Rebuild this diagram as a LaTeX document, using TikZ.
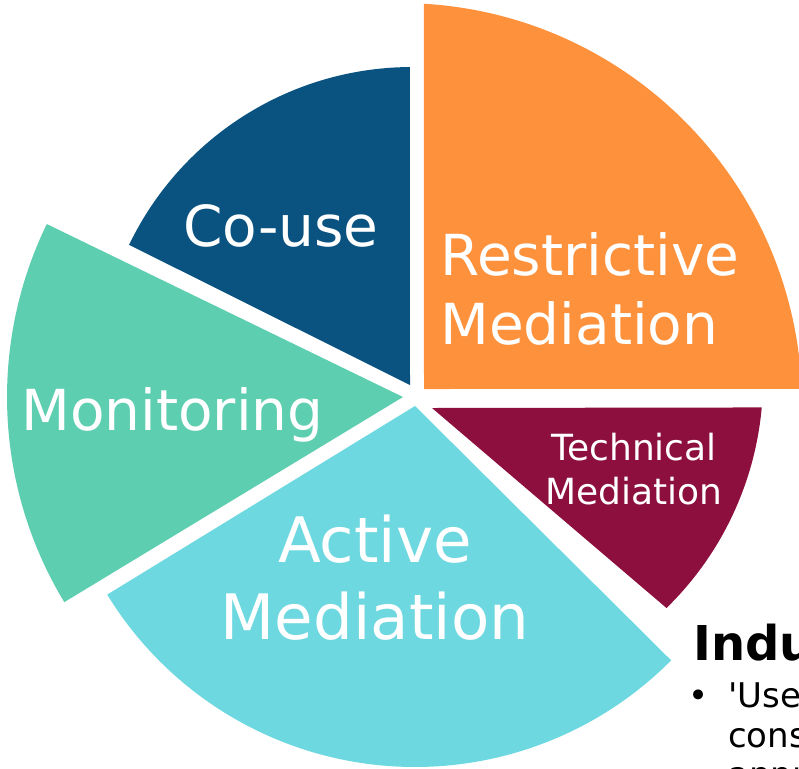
\documentclass[tikz,border=0pt]{standalone}
\usepackage{fontspec}
\setmainfont{DejaVu Sans}
\newfontfamily\bodyfont{DejaVu Sans}
\usetikzlibrary{calc}

\definecolor{restrictive}{HTML}{FD913C}
\definecolor{couse}{HTML}{0A5381}
\definecolor{monitoring}{HTML}{5ECEB0}
\definecolor{active}{HTML}{6ED8E0}
\definecolor{technical}{HTML}{8C0F3D}

\begin{document}
\begin{tikzpicture}[x=0.75pt,y=0.75pt,
  slicetext/.style={text=white,inner sep=0pt},
  bigtext/.style={slicetext,font=\fontsize{42.4}{51.8}\selectfont},
  hugetext/.style={slicetext,align=center,font=\fontsize{47}{57.7}\selectfont},
  smalltext/.style={slicetext,align=center,font=\fontsize{27}{33}\selectfont},
  bodytext/.style={text=black,inner sep=0pt,font=\bodyfont\fontsize{25.5}{29.6}\selectfont}]
\useasboundingbox (0,0) rectangle (799,-768);

% apex and arc centre of every slice
\coordinate (resapex) at (424,-389);
\coordinate (resctr)  at (400,-405);
\coordinate (cuapex)  at (410,-385);
\coordinate (cuctr)   at (412,-381);
\coordinate (monapex) at (403,-397);
\coordinate (actapex) at (415,-406);
\coordinate (tecapex) at (432,-408);
\coordinate (tecctr)  at (443,-379);

% slices
\fill[restrictive] (resapex) -- ($(resctr)+(86.6:402)$)
  arc[start angle=86.6,end angle=2.3,radius=402] -- cycle;
\fill[couse] (cuapex) -- ($(cuctr)+(90.4:314)$)
  arc[start angle=90.4,end angle=154.3,radius=314] -- cycle;
\fill[monitoring] (monapex) -- ++(154.1:396)
  arc[start angle=154.1,end angle=211.2,radius=396] -- cycle;
\fill[active] (actapex) -- ++(211.5:361)
  arc[start angle=211.5,end angle=315.2,radius=361] -- cycle;
\fill[technical] (tecapex) -- ($(tecctr)+(-5.1:320)$)
  arc[start angle=-5.1,end angle=-45.7,radius=320] -- cycle;

% slice labels
\node[bigtext,anchor=base] (couselbl) at (281,-246) {Co-use};
\node[bigtext,align=left,anchor=west] (reslbl) at (440,-289) {Restrictive\\Mediation};
\node[bigtext,anchor=base west] (monlbl) at (21,-430) {Monitoring};
\node[hugetext] (actlbl) at (375,-578) {Active\\Mediation};
\node[smalltext] (teclbl) at (634,-469) {Technical\\Mediation};

% side text
\node[inner sep=0pt,anchor=base west,font=\bfseries\fontsize{36}{43}\selectfont]
  (heading) at (693,-660) {Indu};
\node[bodytext,anchor=base west] (bullet) at (688,-707) {•};
\node[bodytext,anchor=base west] (line1) at (728,-707) {'User};
\node[bodytext,anchor=base west] (line2) at (728,-747) {cons};
\node[bodytext,anchor=base west] (line3) at (728,-786) {appr};
\end{tikzpicture}
\end{document}
